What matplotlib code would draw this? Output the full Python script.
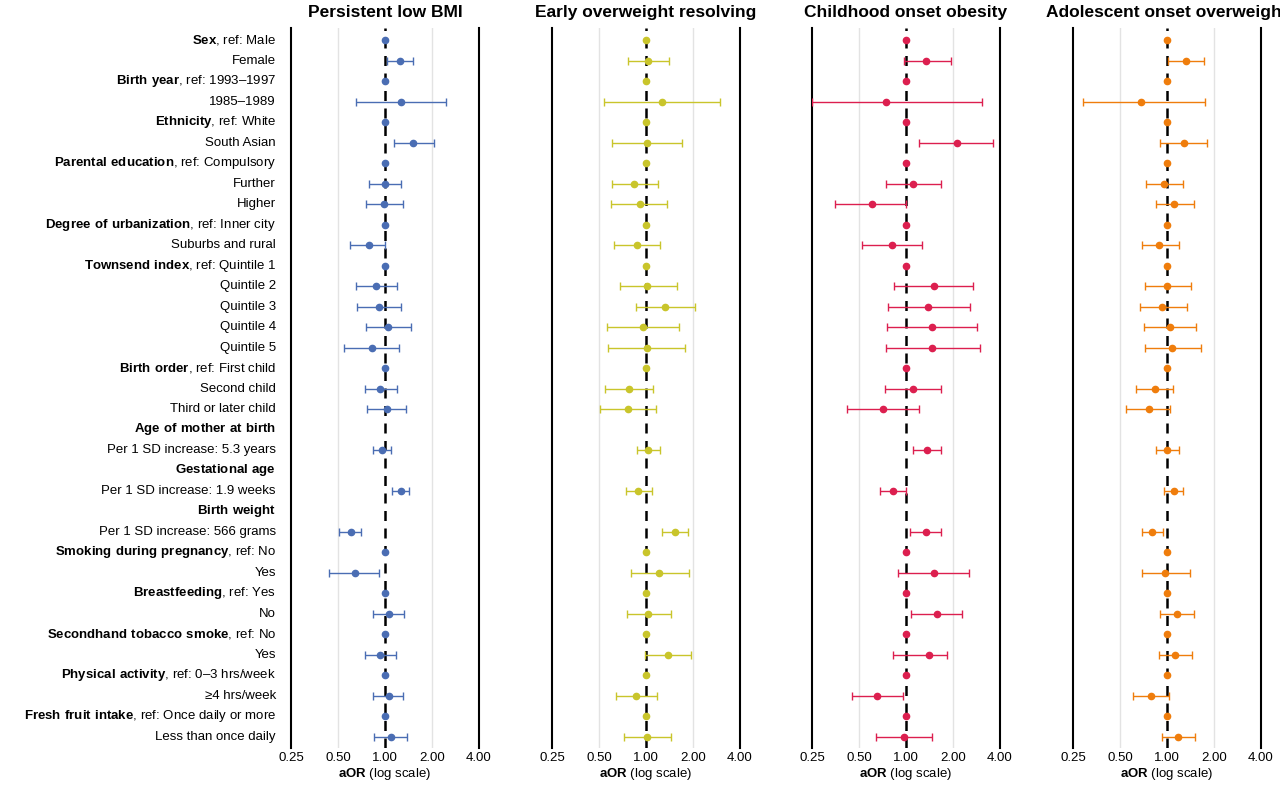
import numpy as np
import matplotlib
matplotlib.use("Agg")
import matplotlib.pyplot as plt

plt.rcParams['font.family'] = ['Liberation Sans', 'DejaVu Sans']
plt.rcParams['mathtext.fontset'] = 'custom'
plt.rcParams['mathtext.rm'] = 'Liberation Sans'
plt.rcParams['mathtext.bf'] = 'Liberation Sans:bold'

rows = [
    ("Sex", ", ref: Male", "ref"), ("", "Female", "val"),
    ("Birth year", ", ref: 1993\u20131997", "ref"), ("", "1985\u20131989", "val"),
    ("Ethnicity", ", ref: White", "ref"), ("", "South Asian", "val"),
    ("Parental education", ", ref: Compulsory", "ref"), ("", "Further", "val"), ("", "Higher", "val"),
    ("Degree of urbanization", ", ref: Inner city", "ref"), ("", "Suburbs and rural", "val"),
    ("Townsend index", ", ref: Quintile 1", "ref"), ("", "Quintile 2", "val"), ("", "Quintile 3", "val"),
    ("", "Quintile 4", "val"), ("", "Quintile 5", "val"),
    ("Birth order", ", ref: First child", "ref"), ("", "Second child", "val"), ("", "Third or later child", "val"),
    ("Age of mother at birth", "", "hdr"), ("", "Per 1 SD increase: 5.3 years", "val"),
    ("Gestational age", "", "hdr"), ("", "Per 1 SD increase: 1.9 weeks", "val"),
    ("Birth weight", "", "hdr"), ("", "Per 1 SD increase: 566 grams", "val"),
    ("Smoking during pregnancy", ", ref: No", "ref"), ("", "Yes", "val"),
    ("Breastfeeding", ", ref: Yes", "ref"), ("", "No", "val"),
    ("Secondhand tobacco smoke", ", ref: No", "ref"), ("", "Yes", "val"),
    ("Physical activity", ", ref: 0\u20133 hrs/week", "ref"), ("", "\u22654 hrs/week", "val"),
    ("Fresh fruit intake", ", ref: Once daily or more", "ref"), ("", "Less than once daily", "val"),
]

titles = ["Persistent low BMI", "Early overweight resolving", "Childhood onset obesity", "Adolescent onset overweight"]
colors = ["#4a6db3", "#c9c52b", "#dc1f4f", "#ef7d0c"]

p1 = [(1.25,1.03,1.51),(1.27,0.65,2.46),(1.51,1.14,2.06),(1.00,0.79,1.27),(0.99,0.76,1.30),(0.79,0.60,1.00),
      (0.88,0.65,1.19),(0.91,0.66,1.27),(1.05,0.76,1.47),(0.83,0.55,1.23),(0.93,0.74,1.19),(1.03,0.77,1.36),
      (0.96,0.84,1.09),(1.27,1.11,1.42),(0.61,0.51,0.70),(0.64,0.44,0.91),(1.06,0.84,1.32),(0.93,0.74,1.18),
      (1.06,0.84,1.30),(1.09,0.85,1.38)]
p2 = [(1.03,0.77,1.40),(1.27,0.54,3.00),(1.01,0.61,1.70),(0.84,0.61,1.19),(0.91,0.60,1.36),(0.88,0.62,1.23),
      (1.01,0.68,1.58),(1.32,0.86,2.06),(0.96,0.56,1.63),(1.01,0.57,1.78),(0.78,0.55,1.11),(0.77,0.51,1.16),
      (1.03,0.88,1.23),(0.89,0.74,1.09),(1.53,1.27,1.86),(1.21,0.80,1.89),(1.03,0.76,1.45),(1.38,0.99,1.94),
      (0.86,0.64,1.18),(1.01,0.72,1.45)]
p3 = [(1.34,0.97,1.94),(0.74,0.25,3.07),(2.12,1.21,3.61),(1.11,0.74,1.68),(0.61,0.35,1.00),(0.81,0.52,1.27),
      (1.51,0.84,2.69),(1.38,0.77,2.57),(1.47,0.76,2.85),(1.47,0.74,2.98),(1.11,0.73,1.68),(0.71,0.42,1.21),
      (1.36,1.11,1.68),(0.83,0.68,1.00),(1.34,1.06,1.68),(1.51,0.89,2.53),(1.58,1.08,2.28),(1.40,0.83,1.83),
      (0.65,0.45,0.96),(0.97,0.64,1.47)]
p4 = [(1.32,1.01,1.73),(0.68,0.29,1.75),(1.28,0.90,1.80),(0.96,0.73,1.27),(1.11,0.85,1.49),(0.89,0.69,1.19),
      (1.00,0.72,1.42),(0.93,0.67,1.34),(1.05,0.71,1.53),(1.08,0.72,1.65),(0.84,0.63,1.09),(0.77,0.55,1.05),
      (1.00,0.85,1.19),(1.11,0.96,1.27),(0.80,0.69,0.94),(0.97,0.69,1.40),(1.16,0.90,1.49),(1.13,0.89,1.45),
      (0.79,0.61,1.03),(1.18,0.93,1.51)]
panels = [p1, p2, p3, p4]
xticks = [0.25, 0.5, 1, 2, 4]
xticklabels = ["0.25", "0.50", "1.00", "2.00", "4.00"]

fig = plt.figure(figsize=(12.8, 7.87), dpi=100)
lefts = [291, 552, 812, 1073]
width = 188
nrows = len(rows)
top_px, bot_px = 28, 748
for k in range(4):
    ax = fig.add_axes([lefts[k]/1280, 1-bot_px/787, width/1280, (bot_px-top_px)/787])
    ax.set_xscale('log', base=2)
    ax.set_xlim(0.25, 4)
    ax.set_ylim(nrows - 0.45, -0.6)
    for g in (0.5, 2):
        ax.axvline(g, color='#e3e3e3', lw=1, zorder=0)
    ax.axvline(1, color='black', lw=1.8, ls=(0, (4, 3)), zorder=1)
    vi = 0
    for i, (b, t, kind) in enumerate(rows):
        if kind == 'ref':
            ax.plot(1, i, 'o', color=colors[k], ms=4.5, zorder=3)
        elif kind == 'val':
            o, lo, hi = panels[k][vi]
            vi += 1
            ax.errorbar(o, i, xerr=[[o-lo], [hi-o]], fmt='o', color=colors[k], ms=4.5,
                        elinewidth=1, capsize=3, capthick=1, zorder=3)
    for s in ('top', 'bottom'):
        ax.spines[s].set_visible(False)
    for s in ('left', 'right'):
        ax.spines[s].set_linewidth(1.5)
    ax.set_yticks([])
    ax.set_xticks(xticks)
    ax.set_xticklabels(xticklabels, fontsize=9.5)
    ax.xaxis.set_minor_locator(matplotlib.ticker.NullLocator())
    ax.tick_params(axis='x', length=0, pad=3)
    ax.set_xlabel(r"$\mathbf{aOR}$ (log scale)", fontsize=9.5, labelpad=1)
    ax.set_title(titles[k], fontsize=12.5, fontweight='bold', pad=8)
    if k == 0:
        for i, (b, t, kind) in enumerate(rows):
            lab = (r"$\mathbf{" + b.replace(" ", r"\ ") + "}$" + t) if b else t
            ax.text(-0.08, i, lab, transform=ax.get_yaxis_transform(), ha='right', va='center', fontsize=9.5)

fig.savefig("out.png", dpi=100)
